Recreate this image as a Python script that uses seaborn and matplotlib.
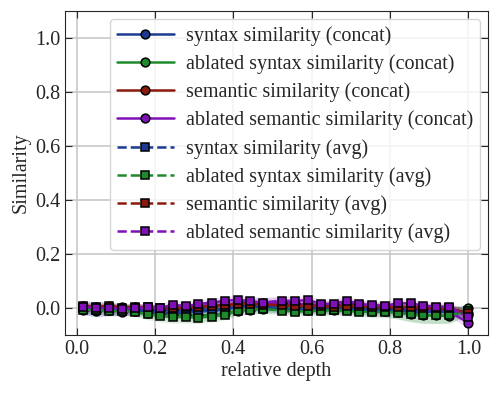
import matplotlib
matplotlib.use("Agg")
import matplotlib.pyplot as plt
import seaborn as sns
import pandas as pd

# relative depth positions
depth = [0.017, 0.049, 0.082, 0.116, 0.148, 0.181, 0.214, 0.246, 0.280, 0.311,
         0.345, 0.379, 0.411, 0.443, 0.476, 0.524, 0.558, 0.590, 0.623, 0.656,
         0.689, 0.721, 0.754, 0.788, 0.819, 0.853, 0.885, 0.917, 0.951, 1.000]

syn_concat = [0.000, -0.004, -0.002, -0.006, -0.004, -0.006, -0.008, -0.010, -0.008, -0.006,
              -0.006, -0.004, 0.004, 0.006, 0.004, 0.008, 0.004, 0.002, 0.000, -0.002,
              0.002, 0.004, -0.002, -0.004, -0.006, -0.008, -0.006, -0.008, -0.010, -0.025]
abl_syn_concat = [-0.004, -0.006, -0.008, -0.010, -0.012, -0.018, -0.022, -0.026, -0.026, -0.028,
                  -0.026, -0.020, -0.010, -0.006, -0.004, 0.000, -0.004, -0.006, -0.008, -0.006,
                  -0.004, -0.006, -0.010, -0.012, -0.016, -0.022, -0.026, -0.028, -0.030, -0.002]
sem_concat = [0.006, 0.004, 0.006, 0.002, 0.004, 0.002, 0.000, -0.002, 0.000, 0.004,
              0.006, 0.008, 0.014, 0.016, 0.014, 0.016, 0.014, 0.012, 0.010, 0.008,
              0.010, 0.012, 0.006, 0.004, 0.002, 0.000, 0.000, -0.002, -0.004, -0.018]
abl_sem_concat = [-0.008, -0.010, -0.008, -0.014, -0.010, -0.006, -0.004, -0.002, 0.000, 0.006,
                  0.010, 0.012, 0.018, 0.020, 0.018, 0.020, 0.016, 0.012, 0.010, 0.012,
                  0.014, 0.012, 0.008, 0.004, 0.002, -0.002, -0.006, -0.010, -0.014, -0.055]

syn_avg = [0.000, -0.006, -0.004, -0.008, -0.006, -0.014, -0.018, -0.020, -0.016, -0.014,
           -0.010, -0.006, 0.004, 0.006, 0.000, -0.004, -0.008, -0.006, -0.004, -0.006,
           -0.004, -0.008, -0.010, -0.010, -0.012, -0.014, -0.014, -0.014, -0.014, -0.012]
abl_syn_avg = [-0.006, -0.008, -0.010, -0.012, -0.014, -0.024, -0.030, -0.034, -0.034, -0.036,
               -0.032, -0.026, -0.012, -0.006, -0.004, -0.010, -0.014, -0.012, -0.010, -0.008,
               -0.012, -0.014, -0.016, -0.014, -0.018, -0.024, -0.028, -0.028, -0.028, -0.010]
sem_avg = [0.008, 0.004, 0.006, 0.000, 0.004, 0.002, -0.002, 0.000, 0.002, 0.004,
           0.008, 0.010, 0.014, 0.016, 0.012, 0.010, 0.006, 0.008, 0.006, 0.004,
           0.008, 0.006, 0.004, 0.002, 0.004, 0.004, 0.000, 0.000, -0.002, -0.020]
abl_sem_avg = [0.004, 0.000, 0.000, -0.004, 0.000, 0.002, 0.000, 0.012, 0.006, 0.014,
               0.020, 0.026, 0.030, 0.025, 0.020, 0.027, 0.025, 0.030, 0.015, 0.015,
               0.027, 0.015, 0.010, 0.008, 0.017, 0.017, 0.008, 0.005, 0.003, -0.035]

# spread of each quantity (shaded bands)
blue_sd = [0.025, 0.028, 0.026, 0.022, 0.020, 0.018, 0.018, 0.016, 0.016, 0.016,
           0.015, 0.015, 0.015, 0.015, 0.016, 0.016, 0.016, 0.016, 0.016, 0.016,
           0.016, 0.016, 0.018, 0.018, 0.018, 0.018, 0.018, 0.018, 0.020, 0.020]
green_sd = [0.015, 0.015, 0.016, 0.016, 0.018, 0.020, 0.022, 0.022, 0.022, 0.022,
            0.020, 0.018, 0.016, 0.016, 0.016, 0.016, 0.016, 0.016, 0.016, 0.018,
            0.018, 0.018, 0.020, 0.022, 0.024, 0.028, 0.030, 0.030, 0.028, 0.020]
red_sd = [0.012, 0.012, 0.012, 0.012, 0.012, 0.012, 0.012, 0.012, 0.012, 0.012,
          0.012, 0.012, 0.012, 0.012, 0.012, 0.012, 0.012, 0.012, 0.012, 0.012,
          0.012, 0.012, 0.012, 0.012, 0.014, 0.014, 0.016, 0.016, 0.016, 0.016]
purple_sd = [0.015, 0.016, 0.016, 0.016, 0.016, 0.016, 0.016, 0.016, 0.016, 0.016,
             0.016, 0.016, 0.016, 0.018, 0.018, 0.018, 0.016, 0.016, 0.016, 0.018,
             0.018, 0.016, 0.016, 0.016, 0.016, 0.016, 0.016, 0.016, 0.018, 0.020]

blue, green, red, purple = "#1c3a94", "#1e8a2c", "#8b1a0c", "#8010b8"

series = [
    ("syntax similarity (concat)", syn_concat, blue_sd, blue, "o", "-"),
    ("ablated syntax similarity (concat)", abl_syn_concat, green_sd, green, "o", "-"),
    ("semantic similarity (concat)", sem_concat, red_sd, red, "o", "-"),
    ("ablated semantic similarity (concat)", abl_sem_concat, purple_sd, purple, "o", "-"),
    ("syntax similarity (avg)", syn_avg, blue_sd, blue, "s", "--"),
    ("ablated syntax similarity (avg)", abl_syn_avg, green_sd, green, "s", "--"),
    ("semantic similarity (avg)", sem_avg, red_sd, red, "s", "--"),
    ("ablated semantic similarity (avg)", abl_sem_avg, purple_sd, purple, "s", "--"),
]

sns.set_style("ticks")
plt.rcParams["font.family"] = ["Liberation Serif", "DejaVu Serif"]
plt.rcParams["font.size"] = 14.5

fig = plt.figure(figsize=(4.99, 3.94), dpi=100)
ax = fig.add_axes([0.130, 0.150, 0.848, 0.822])

for label, vals, sd, color, mk, ls in series:
    df = pd.DataFrame({"depth": depth, "sim": vals})
    lo = [v - s for v, s in zip(vals, sd)]
    hi = [v + s for v, s in zip(vals, sd)]
    ax.fill_between(depth, lo, hi, color=color, alpha=0.14, linewidth=0)
    sns.lineplot(data=df, x="depth", y="sim", ax=ax, color=color, linestyle=ls,
                 marker=mk, markersize=6.3, markeredgecolor="black",
                 markeredgewidth=1.1, linewidth=1.8, label=label)

ax.set_xlim(-0.03, 1.05)
ax.set_ylim(-0.1, 1.1)
ax.set_xticks([0.0, 0.2, 0.4, 0.6, 0.8, 1.0])
ax.set_yticks([0.0, 0.2, 0.4, 0.6, 0.8, 1.0])
ax.set_xlabel("relative depth", fontsize=14.5, labelpad=2)
ax.set_ylabel("Similarity", fontsize=14.5, labelpad=3)
ax.tick_params(direction="in", top=True, right=True, labelsize=14.5, length=5)
ax.grid(True, color="#c8c8c8", linewidth=1.2)
ax.legend(loc="upper right", fontsize=14.5, handlelength=2.8, labelspacing=0.42,
          handletextpad=0.6, borderaxespad=0.4, borderpad=0.35)

fig.savefig("out.png", dpi=100)
